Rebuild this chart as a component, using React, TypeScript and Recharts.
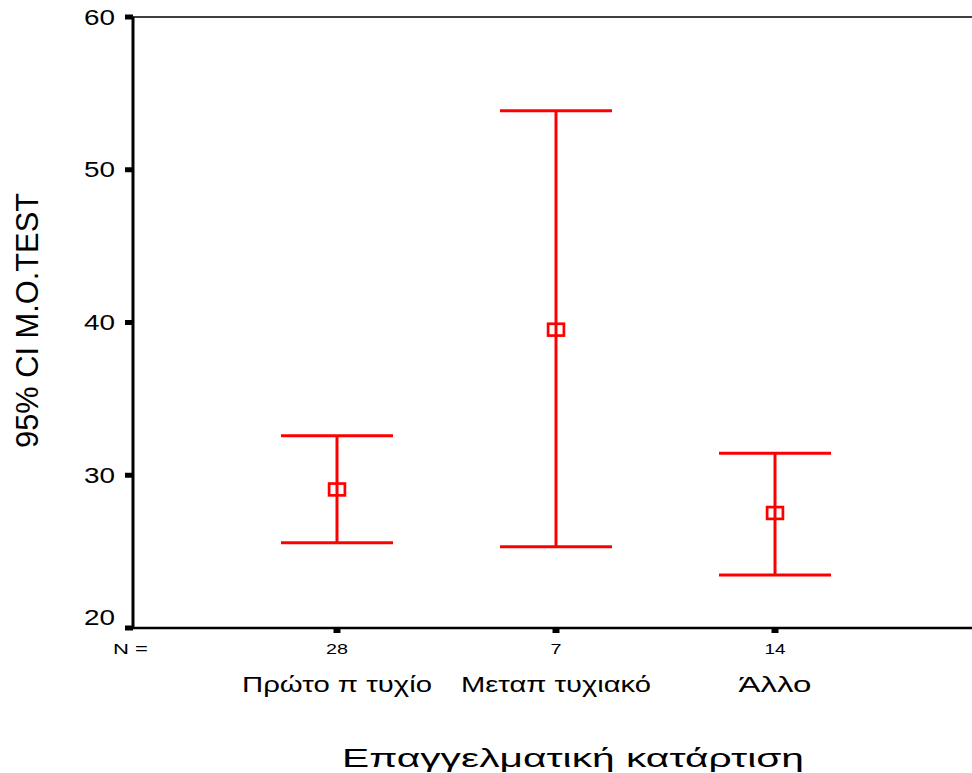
import React from 'react';
import { ScatterChart, Scatter, XAxis, YAxis, ErrorBar, ReferenceLine, Label } from 'recharts';

// ---- data ----
const categories = ['Πρώτο π τυχίο', 'Μεταπ τυχιακό', 'Άλλο'];
const nCounts = ['28', '7', '14'];
const xPositions = [1, 2, 3];
const means = [29.07, 39.53, 27.53];
const lowerCI = [25.58, 25.32, 23.47];
const upperCI = [32.59, 53.87, 31.44];
const yTicks = [20, 30, 40, 50, 60];
const yTitle = '95% CI M.O.TEST';
const xTitle = 'Επαγγελματική κατάρτιση';
const nPrefix = 'N =';

const tableData = categories.map((c, i) => ({
  x: xPositions[i],
  y: means[i],
  err: [means[i] - lowerCI[i], upperCI[i] - means[i]],
  name: c,
}));

// ---- styles ----
const FONT = '"Liberation Sans", Arial, Helvetica, sans-serif';
const RED = '#ff0000';
const catLabelWidths = [190, 190, 73];
const nLabelWidths = [22, 11, 21];

const YTick = (props: any) => {
  const { x, y, payload } = props;
  const shift = payload.value === yTicks[0] ? -11 : 0;
  return (
    <text
      x={x}
      y={y + shift}
      dy="0.36em"
      textAnchor="end"
      fontSize={21.5}
      fontFamily={FONT}
      fill="#000"
      textLength={31}
      lengthAdjust="spacingAndGlyphs"
    >
      {payload.value}
    </text>
  );
};

const XTick = (props: any) => {
  const { x, y, payload } = props;
  const i = xPositions.indexOf(payload.value);
  if (i < 0) return null;
  return (
    <g>
      <text
        x={x}
        y={y}
        dy={20.5}
        textAnchor="middle"
        fontSize={15}
        fontFamily={FONT}
        fill="#000"
        textLength={nLabelWidths[i]}
        lengthAdjust="spacingAndGlyphs"
      >
        {nCounts[i]}
      </text>
      <text
        x={x}
        y={y}
        dy={59}
        textAnchor="middle"
        fontSize={22}
        fontFamily={FONT}
        fill="#000"
        textLength={catLabelWidths[i]}
        lengthAdjust="spacingAndGlyphs"
      >
        {categories[i]}
      </text>
    </g>
  );
};

const XLabelContent = (props: any) => {
  const vb = props.viewBox || { x: 133, y: 628, width: 839, height: 145 };
  return (
    <g>
      <text
        x={vb.x - 2.5}
        y={vb.y + 25.5}
        textAnchor="middle"
        fontSize={15}
        fontFamily={FONT}
        fill="#000"
        textLength={35}
        lengthAdjust="spacingAndGlyphs"
      >
        {nPrefix}
      </text>
      <text
        x={573}
        y={vb.y + 139}
        textAnchor="middle"
        fontSize={26.5}
        fontFamily={FONT}
        fill="#000"
        textLength={462}
        lengthAdjust="spacingAndGlyphs"
      >
        {xTitle}
      </text>
    </g>
  );
};

const YLabelContent = () => {
  const cx = 38;
  const cy = 320.5;
  return (
    <text
      x={cx}
      y={cy}
      transform={`rotate(-90 ${cx} ${cy})`}
      textAnchor="middle"
      fontSize={32}
      fontFamily={FONT}
      fill="#000"
      textLength={255}
      lengthAdjust="spacingAndGlyphs"
    >
      {yTitle}
    </text>
  );
};

const MeanSquare = (props: any) => {
  const { cx, cy } = props;
  if (cx == null || cy == null) return null;
  const w = 15.8;
  const h = 11.8;
  return (
    <rect x={cx - w / 2} y={cy - h / 2} width={w} height={h} fill="none" stroke={RED} strokeWidth={2.7} />
  );
};

export default function App() {
  return (
    <div style={{ position: 'absolute', left: 0, top: 0, width: 972, height: 773, background: '#fff', overflow: 'hidden' }}>
      <ScatterChart width={972} height={773} margin={{ top: 17, right: 0, bottom: 0, left: 0 }}>
        <ReferenceLine y={60} stroke="#000" strokeWidth={1.5} />
        <XAxis
          dataKey="x"
          type="number"
          domain={[0.0685, 3.8995]}
          allowDataOverflow
          ticks={xPositions}
          interval={0}
          height={145}
          axisLine={{ stroke: '#000', strokeWidth: 2.5 }}
          tickLine={{ stroke: '#000', strokeWidth: 7 }}
          tickSize={5}
          tickMargin={0}
          tick={<XTick />}
        >
          <Label content={<XLabelContent />} />
        </XAxis>
        <YAxis
          dataKey="y"
          type="number"
          domain={[20, 60]}
          allowDataOverflow
          ticks={yTicks}
          interval={0}
          width={133}
          axisLine={{ stroke: '#000', strokeWidth: 3 }}
          tickLine={{ stroke: '#000', strokeWidth: 5 }}
          tickSize={8}
          tickMargin={10}
          tick={<YTick />}
        >
          <Label content={<YLabelContent />} />
        </YAxis>
        <Scatter data={tableData} isAnimationActive={false} shape={<MeanSquare />}>
          <ErrorBar dataKey="err" direction="y" width={56} stroke={RED} strokeWidth={3} isAnimationActive={false} />
        </Scatter>
      </ScatterChart>
    </div>
  );
}
